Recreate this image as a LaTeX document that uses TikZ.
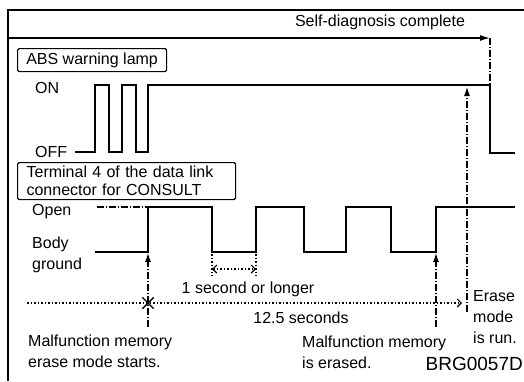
\documentclass[tikz,border=0pt]{standalone}
\usepackage{fontspec}
\setmainfont{Liberation Sans}
\usetikzlibrary{arrows.meta, shapes.misc}

\begin{document}
\begin{tikzpicture}[x=1pt, y=-1pt,
    lbl/.style={inner sep=0pt, font=\fontsize{16}{21}\selectfont, align=left},
    tagbox/.style={draw, line width=1.2pt, rounded corners=1.5pt, inner sep=0pt,
      anchor=north west, font=\fontsize{16}{18}\selectfont, align=left},
    wave/.style={line width=1.5pt},
    dashdot/.style={line width=1.1pt, dash pattern=on 7pt off 2pt on 1pt off 2pt},
    dots/.style={line width=1.1pt, dash pattern=on 1.5pt off 2pt},
    upmark/.style={-{Latex[length=9pt, width=6pt]}},
    barbtip/.tip={Straight Barb[length=4pt, width=8pt]}]
  \useasboundingbox (0,0) rectangle (524,381);
  % Frame
  \draw[line width=1.2pt] (8,381) -- (8,10) -- (524,10);
  % Self-diagnosis
  \coordinate (sdstart) at (8,38);
  \coordinate (sdend) at (490,38);
  \node[lbl] (sdlabel) at (380,22) {Self-diagnosis complete};
  \draw[line width=1.4pt, -{Latex[length=10pt, width=6pt]}] (sdstart) -- (sdend);
  % Warning lamp
  \node[tagbox, minimum width=149pt, minimum height=23pt, align=center] (lampbox) at (17,48) {ABS warning lamp};
  \node[lbl, anchor=west] (onlabel) at (35,88) {ON};
  \node[lbl, anchor=west] (offlabel) at (35,152) {OFF};
  \draw[wave] (75,152) -- (95,152) -- (95,85) -- (109,85) -- (109,152) -- (122,152)
    -- (122,85) -- (136,85) -- (136,152) -- (148,152) -- (148,85) -- (490,85)
    -- (490,153) -- (515,153);
  \coordinate (lampend) at (490,85);
  \draw[dashdot] (sdend) -- (lampend);
  % Terminal 4
  \node[tagbox, minimum width=213pt, minimum height=37pt, text width=200pt, inner xsep=9pt] (termbox) at (17,162)
    {Terminal 4 of the data link\\connector for CONSULT};
  \node[lbl, anchor=west] (openlabel) at (32,212) {Open};
  \node[lbl, anchor=west] (bodylabel) at (32,255) {Body\\ground};
  \draw[dashdot] (97,207) -- (148,207);
  \draw[wave] (95,252) -- (148,252) -- (148,207) -- (212,207) -- (212,252) -- (256,252)
    -- (256,207) -- (304,207) -- (304,252) -- (346,252) -- (346,207) -- (391,207)
    -- (391,252) -- (436,252) -- (436,207) -- (515,207);
  % 1 second or longer
  \coordinate (gapleft) at (212,269);
  \coordinate (gapright) at (256,269);
  \draw[dots] (212,254) -- (212,276);
  \draw[dots] (256,254) -- (256,276);
  \draw[dots, barbtip-barbtip] (gapleft) -- (gapright);
  \node[lbl] (gaplabel) at (248,289) {1 second or longer};
  % 12.5 seconds
  \coordinate (tstart) at (27,303);
  \coordinate (tend) at (462,303);
  \node[draw, cross out, line width=1.4pt, minimum size=10pt, inner sep=0pt] (xmark) at (148,303) {};
  \draw[dots, -barbtip] (tstart) -- (tend);
  \node[lbl] (tlabel) at (301,318) {12.5 seconds};
  % Markers
  \coordinate (startlow) at (148,253);
  \coordinate (startfoot) at (148,327);
  \coordinate (erasedlow) at (436,253);
  \coordinate (erasedfoot) at (436,327);
  \coordinate (runon) at (467,87);
  \coordinate (runfoot) at (467,312);
  \draw[dashdot, upmark] (startfoot) -- (startlow);
  \draw[dashdot, upmark] (erasedfoot) -- (erasedlow);
  \draw[dashdot, upmark] (runfoot) -- (runon);
  % Labels
  \node[lbl, anchor=west] (startlabel) at (28,351.5) {Malfunction memory\\erase mode starts.};
  \node[lbl, anchor=west] (erasedlabel) at (302,352) {Malfunction memory\\is erased.};
  \node[lbl, anchor=west] (runlabel) at (473,317) {Erase\\mode\\is run.};
  \node[lbl, anchor=east, font=\fontsize{19}{21}\selectfont] (code) at (523,364) {BRG0057D};
\end{tikzpicture}
\end{document}
